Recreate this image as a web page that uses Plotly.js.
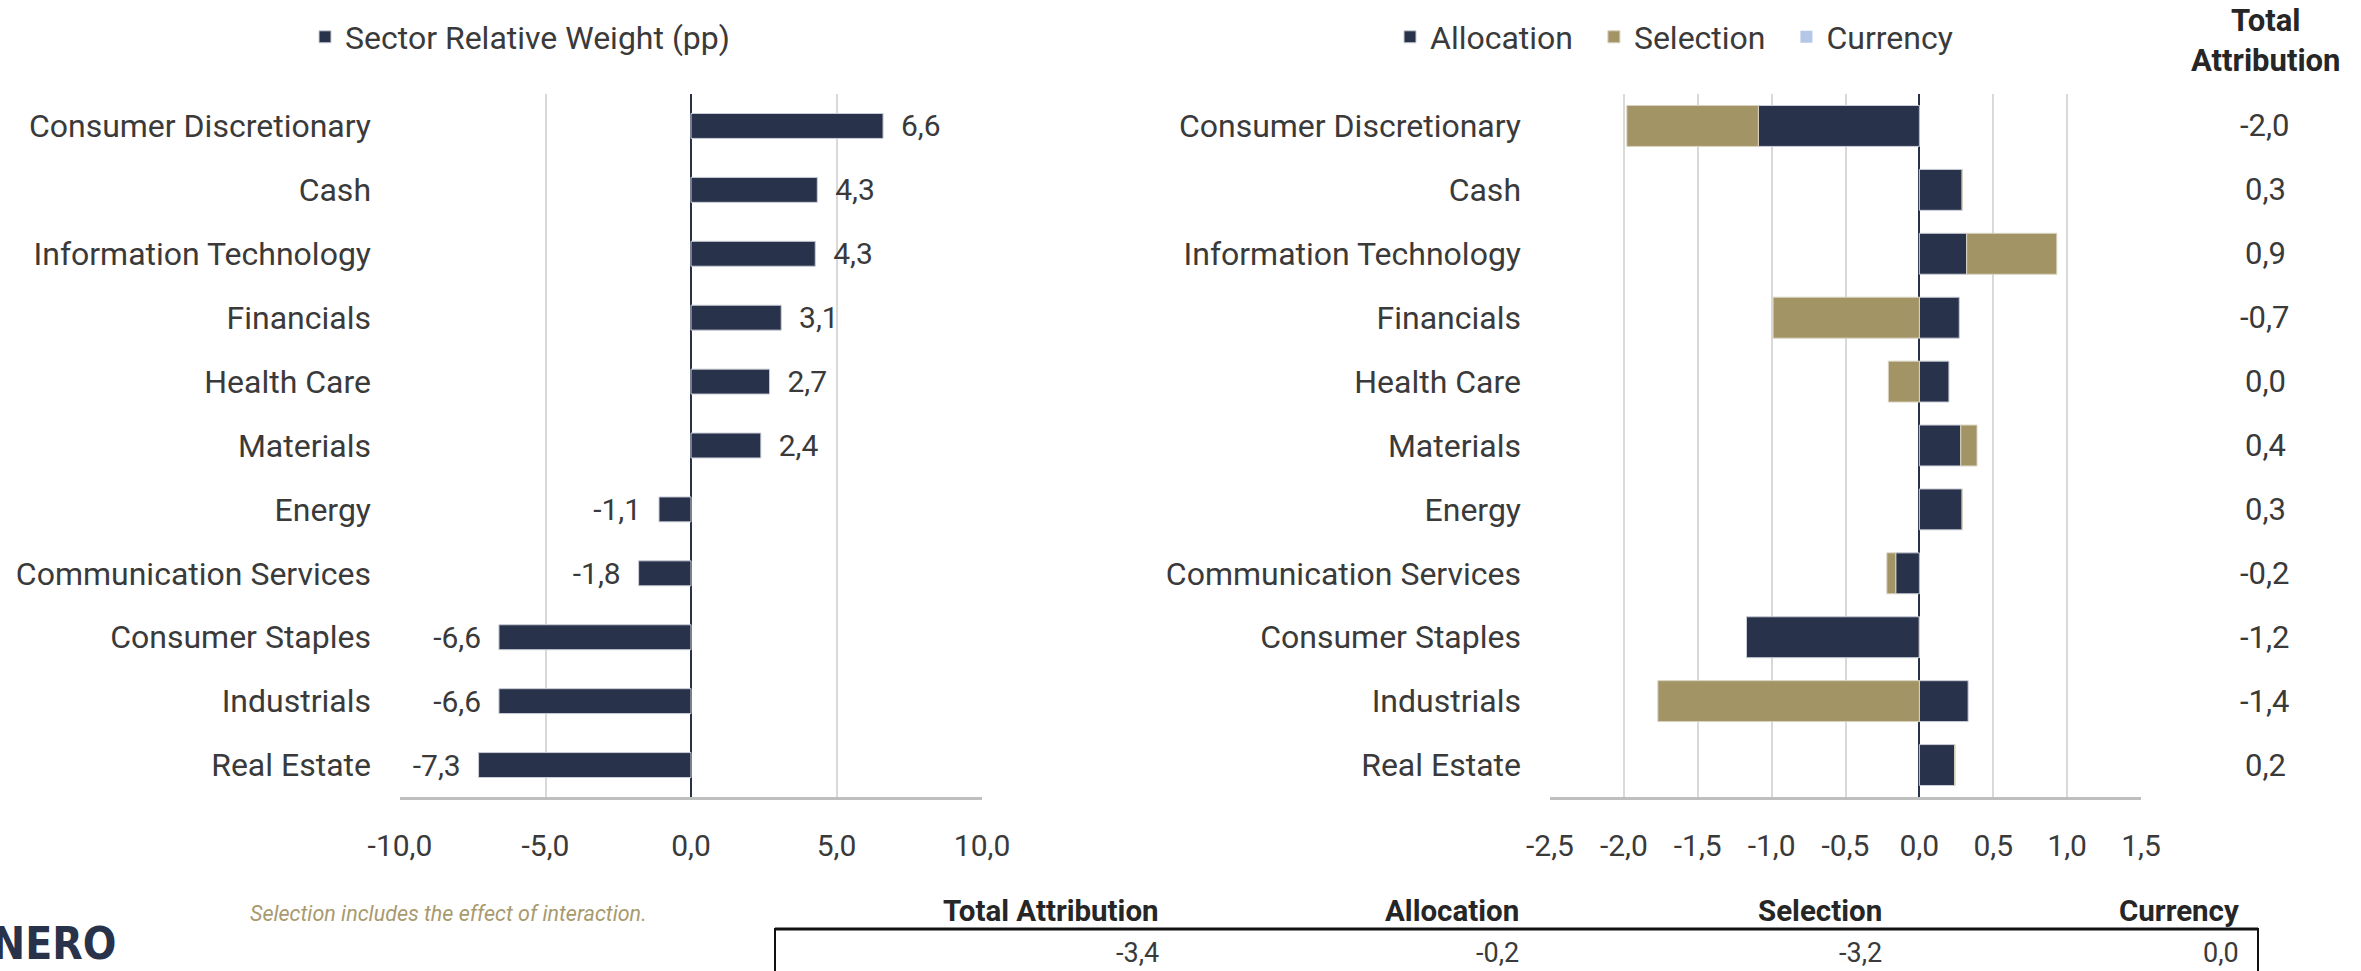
<!DOCTYPE html>
<html>
<head>
<meta charset="utf-8">
<script src="https://cdn.plot.ly/plotly-3.0.1.min.js"></script>
<style>html,body{margin:0;padding:0;background:#fff;}#chart{width:2361px;height:971px;}</style>
</head>
<body>
<div id="chart"></div>
<script>
// ---- Data ----
const categories = ["Consumer Discretionary","Cash","Information Technology","Financials","Health Care","Materials","Energy","Communication Services","Consumer Staples","Industrials","Real Estate"];
const relativeWeight = [6.6, 4.34, 4.27, 3.1, 2.7, 2.4, -1.1, -1.8, -6.6, -6.6, -7.3];
const allocation = [-1.09, 0.29, 0.32, 0.27, 0.20, 0.28, 0.29, -0.16, -1.17, 0.33, 0.24];
const selection  = [-0.89, 0.00, 0.61, -0.99, -0.21, 0.11, 0.00, -0.06, 0.00, -1.77, 0.00];
const currency   = [0, 0, 0, 0, 0, 0, 0, 0, 0, 0, 0];
const totalAttribution = [-2.0, 0.3, 0.9, -0.7, 0.0, 0.4, 0.3, -0.2, -1.2, -1.4, 0.2];
const summaryHeaders = ["Total Attribution","Allocation","Selection","Currency"];
const summaryValues = [-3.4, -0.2, -3.2, 0.0];
const leftTicks = [-10, -5, 0, 5, 10];
const rightTicks = [-2.5, -2.0, -1.5, -1.0, -0.5, 0.0, 0.5, 1.0, 1.5];

// ---- Styles ----
const W = 2361, H = 971;
const NAVY = "#28324A", GOLD = "#A39466", LIGHT = "#B4C7E7";
const TXT = "#3A3A3A";
const FONT = "Roboto, 'Open Sans', sans-serif";
const fmt = v => v.toFixed(1).replace('.', ',');
const px = x => x / W;
const py = y => 1 - y / H;

const nb = '\u00a0';
const leftText = relativeWeight.map(v => v >= 0 ? nb + nb + fmt(v) : fmt(v) + nb + nb);

const traces = [
  {type:'bar', orientation:'h', name:'Sector Relative Weight (pp)', y:categories, x:relativeWeight,
   xaxis:'x', yaxis:'y', width:0.39, marker:{color:NAVY, line:{color:'#C9CDD6', width:1}},
   text:leftText, textposition:'outside', constraintext:'none', cliponaxis:false,
   textfont:{size:30, color:TXT, family:FONT}, outsidetextfont:{size:30, color:TXT, family:FONT},
   legend:'legend', hoverinfo:'skip'},
  {type:'bar', orientation:'h', name:'Allocation' + nb + nb, y:categories, x:allocation,
   xaxis:'x2', yaxis:'y2', width:0.64, marker:{color:NAVY, line:{color:'#C9CDD6', width:1}}, legend:'legend2', hoverinfo:'skip'},
  {type:'bar', orientation:'h', name:'Selection' + nb + nb, y:categories, x:selection,
   xaxis:'x2', yaxis:'y2', width:0.64, marker:{color:GOLD, line:{color:'#D8D2C0', width:1}}, legend:'legend2', hoverinfo:'skip'},
  {type:'bar', orientation:'h', name:'Currency', y:categories, x:currency,
   xaxis:'x2', yaxis:'y2', width:0.64, marker:{color:LIGHT}, legend:'legend2', hoverinfo:'skip'}
];

const yDom = [0.17920, 0.90319];
const xCommon = {
  showgrid:true, gridcolor:'#D9D9D9', gridwidth:2,
  zeroline:true, zerolinecolor:NAVY, zerolinewidth:2,
  showline:true, linecolor:'#BFBFBF', linewidth:3,
  ticks:'', ticklabelstandoff:20,
  tickfont:{size:30, color:TXT, family:FONT}, fixedrange:true
};
const yCommon = {
  type:'category', autorange:'reversed', showgrid:false, zeroline:false, showline:false,
  ticks:'', ticklabelstandoff:28, tickfont:{size:32, color:TXT, family:FONT}, fixedrange:true
};

const annotations = [];
// Total attribution column header
annotations.push({xref:'paper', yref:'paper', x:px(2265), y:py(40), xanchor:'center', yanchor:'middle',
  text:'<b>Total</b><br><b>Attribution</b>', showarrow:false, font:{size:31, color:'#262626', family:FONT}});
// Total attribution values
categories.forEach((c, i) => {
  annotations.push({xref:'paper', yref:'y2', x:px(2265), y:c, xanchor:'center', yanchor:'middle',
    text:fmt(totalAttribution[i]), showarrow:false, font:{size:31, color:TXT, family:FONT}});
});
// Note
annotations.push({xref:'paper', yref:'paper', x:px(248), y:py(913), xanchor:'left', yanchor:'middle',
  text:'<i>Selection includes the effect of interaction.</i>', showarrow:false,
  font:{size:21.5, color:'#A89A6E', family:FONT}});
// Summary table
const colRight = [1161, 1521, 1884, 2241];
summaryHeaders.forEach((h, i) => {
  annotations.push({xref:'paper', yref:'paper', x:px(colRight[i]), y:py(911), xanchor:'right', yanchor:'middle',
    text:'<b>' + h + '</b>', showarrow:false, font:{size:29.5, color:'#262626', family:FONT}});
  annotations.push({xref:'paper', yref:'paper', x:px(colRight[i]), y:py(953), xanchor:'right', yanchor:'middle',
    text:fmt(summaryValues[i]), showarrow:false, font:{size:27, color:TXT, family:FONT}});
});
// Logo
annotations.push({xref:'paper', yref:'paper', x:px(118), y:py(971), xanchor:'right', yanchor:'bottom',
  text:'<b>NERO</b>', showarrow:false, font:{size:44, color:NAVY, family:"'DejaVu Sans Condensed', 'DejaVu Sans', sans-serif"}});

const shapes = [
  {type:'rect', xref:'paper', yref:'paper', x0:px(775), x1:px(2258), y0:py(1000), y1:py(929),
   line:{color:'#111', width:2}, fillcolor:'rgba(0,0,0,0)'},
  {type:'line', xref:'paper', yref:'paper', x0:px(775), x1:px(2258), y0:py(929), y1:py(929),
   line:{color:'#111', width:3}},
  {type:'line', xref:'paper', yref:'paper', x0:px(72), x1:px(114), y0:py(964), y1:py(934),
   line:{color:'#fff', width:3}}
];

const layout = {
  width:W, height:H, margin:{l:0, r:0, t:0, b:0},
  paper_bgcolor:'#fff', plot_bgcolor:'rgba(0,0,0,0)',
  font:{family:FONT, color:TXT, size:30},
  separators:',.',
  barmode:'relative',
  showlegend:true,
  xaxis:Object.assign({}, xCommon, {domain:[px(400), px(982)], range:[-10, 10], tickvals:leftTicks, ticktext:leftTicks.map(fmt), anchor:'y'}),
  yaxis:Object.assign({}, yCommon, {domain:yDom, anchor:'x'}),
  xaxis2:Object.assign({}, xCommon, {domain:[px(1550), px(2141)], range:[-2.5, 1.5], tickvals:rightTicks, ticktext:rightTicks.map(fmt), anchor:'y2'}),
  yaxis2:Object.assign({}, yCommon, {domain:yDom, anchor:'x2'}),
  legend:{orientation:'h', x:px(305), y:py(37), xanchor:'left', yanchor:'middle',
    font:{size:32, color:TXT, family:FONT}, bgcolor:'rgba(0,0,0,0)', itemclick:false, itemdoubleclick:false},
  legend2:{orientation:'h', x:px(1390), y:py(37), xanchor:'left', yanchor:'middle',
    font:{size:32, color:TXT, family:FONT}, bgcolor:'rgba(0,0,0,0)', itemclick:false, itemdoubleclick:false},
  annotations:annotations,
  shapes:shapes
};

Plotly.newPlot('chart', traces, layout, {displayModeBar:false, staticPlot:true});
</script>
</body>
</html>
